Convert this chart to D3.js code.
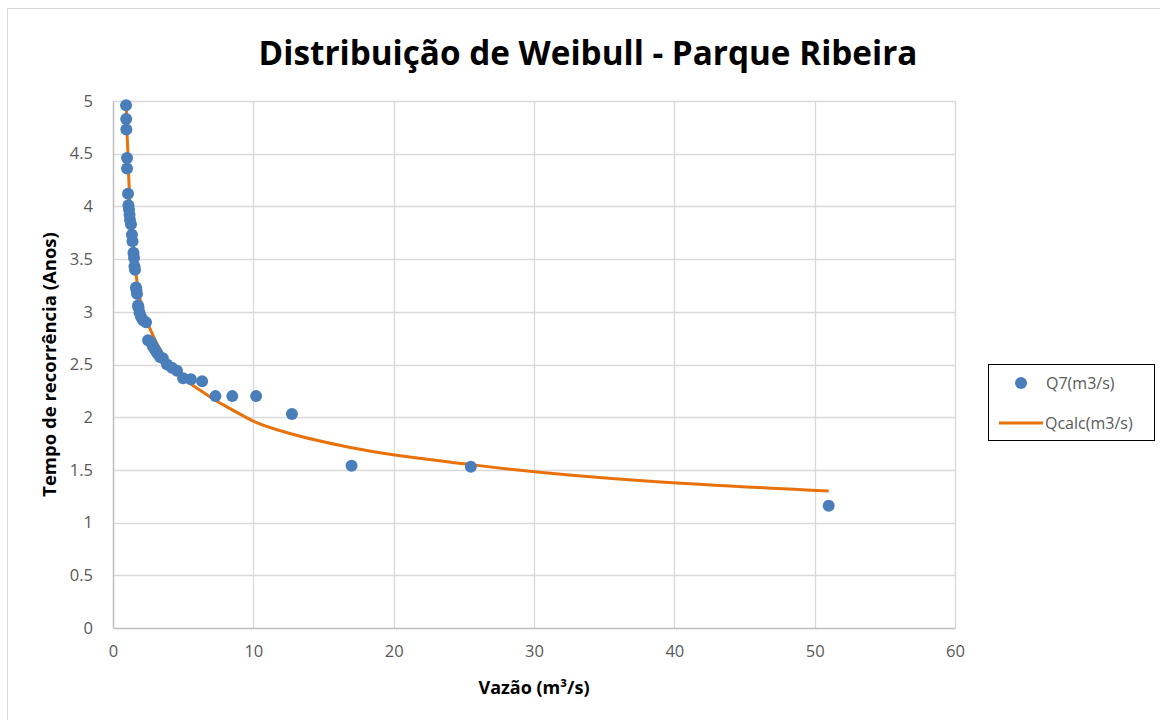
<!DOCTYPE html>
<html>
<head>
<meta charset="utf-8">
<script src="https://cdn.jsdelivr.net/npm/d3@7"></script>
<style>
  body { margin: 0; background: #fff; }
  svg { display: block; font-family: "Open Sans", "Noto Sans", sans-serif; }
</style>
</head>
<body>
<svg id="chart" width="1160" height="720"></svg>
<script>
// Observed points Q7(m3/s)
var obsX = [51, 25.5, 17, 12.75, 10.2, 8.5, 7.3, 6.35, 5.55, 5.0, 4.56, 4.2, 3.85, 3.55, 3.35,
            3.14, 3.0, 2.85, 2.7, 2.5, 2.35, 2.14, 2.0, 1.89, 1.82, 1.78, 1.71, 1.67, 1.64, 1.57,
            1.53, 1.5, 1.46, 1.39, 1.35, 1.28, 1.21, 1.18, 1.14, 1.1, 1.07, 1.0, 1.0, 0.95, 0.94, 0.93];
var obsY = [1.16, 1.53, 1.54, 2.03, 2.20, 2.20, 2.20, 2.34, 2.36, 2.37, 2.44, 2.47, 2.50, 2.56, 2.57,
            2.61, 2.64, 2.67, 2.71, 2.73, 2.90, 2.92, 2.95, 2.99, 3.04, 3.06, 3.17, 3.21, 3.23, 3.40,
            3.43, 3.51, 3.56, 3.67, 3.73, 3.83, 3.87, 3.92, 3.97, 4.01, 4.12, 4.36, 4.46, 4.73, 4.83, 4.96];

// Fitted curve Qcalc(m3/s)
var calcX = [0.95, 1.0, 1.05, 1.1, 1.15, 1.2, 1.3, 1.4, 1.5, 1.6, 1.7, 1.8, 2.0, 2.2, 2.5, 2.8,
             3.2, 3.6, 4.0, 4.5, 5.1, 5.7, 6.4, 7.3, 8.5, 10.2, 12.75, 17, 25.5, 51];
var calcY = [4.95, 4.7, 4.55, 4.35, 4.18, 4.02, 3.85, 3.68, 3.52, 3.40, 3.30, 3.20, 3.08, 2.98, 2.88, 2.79,
             2.68, 2.59, 2.50, 2.42, 2.36, 2.30, 2.24, 2.16, 2.07, 1.95, 1.84, 1.71, 1.55, 1.30];

var xTicks = [0, 10, 20, 30, 40, 50, 60];
var yTicks = [0, 0.5, 1, 1.5, 2, 2.5, 3, 3.5, 4, 4.5, 5];

var titleText = "Distribuição de Weibull - Parque Ribeira";
var xTitle = "Vazão (m³/s)";
var yTitle = "Tempo de recorrência (Anos)";
var legendNames = ["Q7(m3/s)", "Qcalc(m3/s)"];

var dotColor = "#4a7ebb",
    lineColor = "#e8710a",
    gridColor = "#d9d9d9",
    textColor = "#595959";

var plot = {left: 113, right: 955, top: 101, bottom: 628};

var svg = d3.select("#chart");

// outer chart frame
svg.append("rect")
    .attr("x", 7.5).attr("y", 8.5)
    .attr("width", 1160).attr("height", 720)
    .attr("fill", "#fff")
    .attr("stroke", "#d9d9d9");

var x = d3.scaleLinear().domain([0, 60]).range([plot.left, plot.right]);
var y = d3.scaleLinear().domain([0, 5]).range([plot.bottom, plot.top]);

// gridlines
svg.append("g").selectAll("line")
    .data(yTicks.slice(1))
    .enter().append("line")
    .attr("x1", plot.left).attr("x2", plot.right)
    .attr("y1", function(d) { return Math.round(y(d)) + 0.5; })
    .attr("y2", function(d) { return Math.round(y(d)) + 0.5; })
    .attr("stroke", gridColor).attr("stroke-width", 1.3);

svg.append("g").selectAll("line")
    .data(xTicks.slice(1))
    .enter().append("line")
    .attr("x1", function(d) { return Math.round(x(d)) + 0.5; })
    .attr("x2", function(d) { return Math.round(x(d)) + 0.5; })
    .attr("y1", plot.top).attr("y2", plot.bottom)
    .attr("stroke", gridColor).attr("stroke-width", 1.3);

// axes (no ticks, just labels and a grey line)
var xAxis = svg.append("g")
    .attr("transform", "translate(0," + plot.bottom + ")")
    .call(d3.axisBottom(x).tickValues(xTicks).tickSize(0).tickPadding(17));
var yAxis = svg.append("g")
    .attr("transform", "translate(" + plot.left + ",0)")
    .call(d3.axisLeft(y).tickValues(yTicks).tickSize(0).tickPadding(20)
        .tickFormat(function(d) { return d; }));

[xAxis, yAxis].forEach(function(a) {
    a.select(".domain").attr("stroke", "#bfbfbf").attr("stroke-width", 1.5);
    a.selectAll("text")
        .attr("fill", textColor)
        .style("font-size", "16.5px")
        .style("font-family", "'Open Sans', sans-serif");
});

// fitted curve
var line = d3.line()
    .x(function(d) { return x(d[0]); })
    .y(function(d) { return y(d[1]); })
    .curve(d3.curveMonotoneX);

svg.append("path")
    .datum(d3.zip(calcX, calcY))
    .attr("d", line)
    .attr("fill", "none")
    .attr("stroke", lineColor)
    .attr("stroke-width", 3)
    .attr("stroke-linejoin", "round");

// observed points
svg.append("g").selectAll("circle")
    .data(d3.zip(obsX, obsY))
    .enter().append("circle")
    .attr("cx", function(d) { return x(d[0]); })
    .attr("cy", function(d) { return y(d[1]); })
    .attr("r", 6)
    .attr("fill", dotColor);

// title, sized to fit the reference width
var title = svg.append("text")
    .attr("x", 588).attr("y", 65)
    .attr("text-anchor", "middle")
    .attr("font-weight", "bold")
    .attr("fill", "#000")
    .style("font-size", "34px")
    .text(titleText);
var tw = title.node().getComputedTextLength();
title.style("font-size", (34 * 659 / tw) + "px");

// axis titles
svg.append("text")
    .attr("x", (plot.left + plot.right) / 2).attr("y", 694)
    .attr("text-anchor", "middle")
    .attr("font-weight", "bold")
    .style("font-size", "18px")
    .text(xTitle);

svg.append("text")
    .attr("transform", "translate(56," + ((plot.top + plot.bottom) / 2) + ") rotate(-90)")
    .attr("text-anchor", "middle")
    .attr("font-weight", "bold")
    .style("font-size", "18.5px")
    .text(yTitle);

// legend
var legend = svg.append("g").attr("transform", "translate(988,364)");
legend.append("rect")
    .attr("x", 0.5).attr("y", 0.5)
    .attr("width", 166).attr("height", 76)
    .attr("fill", "#fff")
    .attr("stroke", "#000");
legend.append("circle")
    .attr("cx", 33).attr("cy", 19).attr("r", 6)
    .attr("fill", dotColor);
legend.append("line")
    .attr("x1", 11).attr("x2", 55)
    .attr("y1", 59).attr("y2", 59)
    .attr("stroke", lineColor).attr("stroke-width", 3);
legend.selectAll(".lt")
    .data(legendNames)
    .enter().append("text")
    .attr("class", "lt")
    .attr("x", function(d, i) { return i == 0 ? 58 : 57; })
    .attr("y", function(d, i) { return i == 0 ? 25 : 65; })
    .attr("fill", textColor)
    .style("font-size", "16px")
    .text(function(d) { return d; });
</script>
</body>
</html>
